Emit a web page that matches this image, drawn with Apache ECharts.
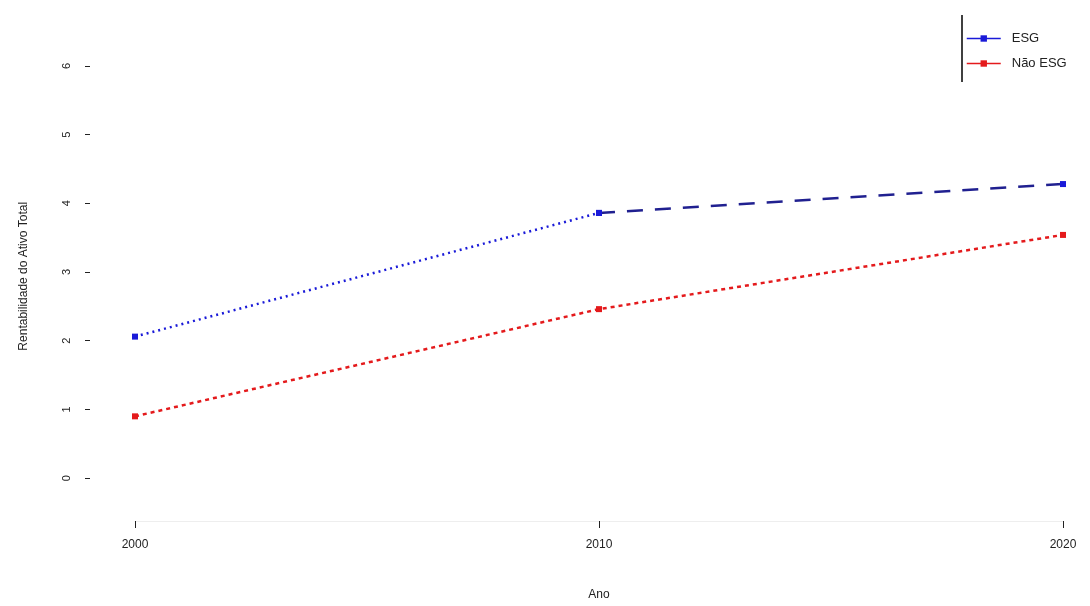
<!DOCTYPE html>
<html><head><meta charset="utf-8">
<script src="https://cdn.jsdelivr.net/npm/echarts@6/dist/echarts.min.js"></script>
<style>html,body{margin:0;padding:0;background:#fff}#c{width:1090px;height:606px}</style>
</head><body><div id="c"></div>
<script>
const years = [2000, 2010, 2020];
const esg = [2.06, 3.86, 4.28];
const naoEsg = [0.90, 2.46, 3.54];
const yTicks = [0, 1, 2, 3, 4, 5, 6];
const seriesNames = ['ESG', 'Não ESG'];

const blue = '#1a1ad8', red = '#e41a1c';
const chart = echarts.init(document.getElementById('c'));
const pts = (xs, ys) => xs.map((x, i) => [x, ys[i]]);
chart.setOption({
  animation: false,
  textStyle: {fontFamily: 'Liberation Sans, Arial, sans-serif'},
  grid: {left: 135, right: 27, top: 31.5, bottom: 83},
  legend: {
    left: 961, top: 27, orient: 'vertical', itemGap: 12, itemWidth: 34, itemHeight: 8,
    textStyle: {fontSize: 13, color: '#222', padding: [0, 0, 0, 6]},
    data: [
      {name: seriesNames[0], itemStyle: {color: blue}, lineStyle: {type: 'solid', color: blue, width: 1.5}},
      {name: seriesNames[1], itemStyle: {color: red}, lineStyle: {type: 'solid', color: red, width: 1.5}}
    ]
  },
  graphic: [{type: 'line', shape: {x1: 962, y1: 15, x2: 962, y2: 82}, style: {stroke: '#000', lineWidth: 1.5}}],
  xAxis: {
    type: 'value', min: years[0], max: years[years.length - 1], interval: 10,
    name: 'Ano', nameLocation: 'middle', nameGap: 68, nameTextStyle: {fontSize: 12, color: '#222'},
    axisLine: {onZero: false, lineStyle: {color: '#eee'}},
    axisTick: {length: 7, lineStyle: {color: '#222'}},
    axisLabel: {fontSize: 12, color: '#222', margin: 18, formatter: v => String(v)},
    splitLine: {show: false}
  },
  yAxis: {
    type: 'value', min: -0.623, max: 6.5, offset: 45,
    name: 'Rentabilidade do Ativo Total', nameLocation: 'middle', nameGap: 60, nameRotate: 90,
    nameTextStyle: {fontSize: 12, color: '#222'},
    axisLine: {show: false},
    axisTick: {show: true, length: 5, lineStyle: {color: '#222'}, customValues: yTicks},
    axisLabel: {fontSize: 11, color: '#222', rotate: 90, margin: 18, customValues: yTicks},
    splitLine: {show: false}
  },
  series: [
    {name: seriesNames[0], type: 'line', data: pts(years.slice(0, 2), esg.slice(0, 2)), symbol: 'rect', symbolSize: 6,
     itemStyle: {color: blue}, lineStyle: {color: blue, width: 2.5, type: [2, 4]}},
    {name: seriesNames[0], type: 'line', data: pts(years.slice(1), esg.slice(1)), symbol: 'rect', symbolSize: 6,
     itemStyle: {color: blue}, lineStyle: {color: '#202090', width: 2.5, type: [16, 12]}},
    {name: seriesNames[1], type: 'line', data: pts(years, naoEsg), symbol: 'rect', symbolSize: 6,
     itemStyle: {color: red}, lineStyle: {color: red, width: 2.5, type: [4, 4]}}
  ]
});
</script></body></html>
